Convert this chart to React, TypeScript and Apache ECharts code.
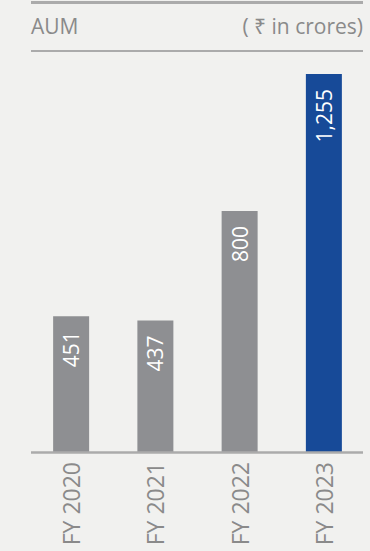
import React, { useEffect, useRef } from "react";
import * as echarts from "echarts";

const categories = ["FY 2020", "FY 2021", "FY 2022", "FY 2023"];
const aumValues = [451, 437, 800, 1255];
const valueLabels = ["451", "437", "800", "1,255"];
const title = "AUM";
const unit = "( ₹ in crores)";

const GREY = "#8e8f92";
const BLUE = "#174a98";
const LINE = "#ababab";
const TEXT = "#8a8a8a";
const FONT = "'Open Sans', 'Noto Sans', sans-serif";

export default function App() {
  const ref = useRef<HTMLDivElement>(null);
  useEffect(() => {
    document.body.style.margin = "0";
    const chart = echarts.init(ref.current!, null, { renderer: "svg" });
    chart.setOption({
      animation: false,
      backgroundColor: "#f1f1ef",
      grid: { left: 29, right: 4, top: 74, bottom: 99 },
      graphic: [
        { type: "rect", shape: { x: 31, y: 1, width: 332, height: 3 }, style: { fill: LINE } },
        { type: "rect", shape: { x: 31, y: 50, width: 332, height: 2 }, style: { fill: LINE } },
        {
          type: "text",
          x: 31,
          y: 26,
          style: { text: title, fill: TEXT, font: `400 21px ${FONT}`, textVerticalAlign: "middle" },
        },
        {
          type: "text",
          x: 363,
          y: 26,
          style: { text: unit, fill: TEXT, font: `400 21px ${FONT}`, textAlign: "right", textVerticalAlign: "middle" },
        },
      ],
      xAxis: {
        type: "category",
        data: categories,
        axisLine: { show: false },
        axisTick: { show: false },
        axisLabel: {
          rotate: 90,
          color: TEXT,
          fontSize: 23,
          fontWeight: 400,
          fontFamily: FONT,
          margin: 10,
        },
      },
      yAxis: {
        type: "value",
        min: 0,
        max: 1255,
        show: false,
        splitLine: { show: false },
      },
      series: [
        {
          type: "bar",
          barWidth: 36,
          data: aumValues.map((v, i) => ({
            value: v,
            itemStyle: { color: i === aumValues.length - 1 ? BLUE : GREY },
          })),
          label: {
            show: true,
            position: "insideTop",
            rotate: 90,
            align: "right",
            verticalAlign: "middle",
            distance: 15,
            color: "#ffffff",
            fontSize: 21,
            fontWeight: 400,
            fontFamily: FONT,
            formatter: (p: any) => valueLabels[p.dataIndex],
          },
        },
        {
          type: "line",
          data: [],
          markLine: {
            silent: true,
            symbol: "none",
            label: { show: false },
            lineStyle: { color: LINE, width: 2.5, type: "solid" },
            data: [[{ x: 31, y: 452 }, { x: 363, y: 452 }]],
          },
        },
      ],
    });
    return () => chart.dispose();
  }, []);
  return <div ref={ref} style={{ width: 370, height: 551 }} />;
}
